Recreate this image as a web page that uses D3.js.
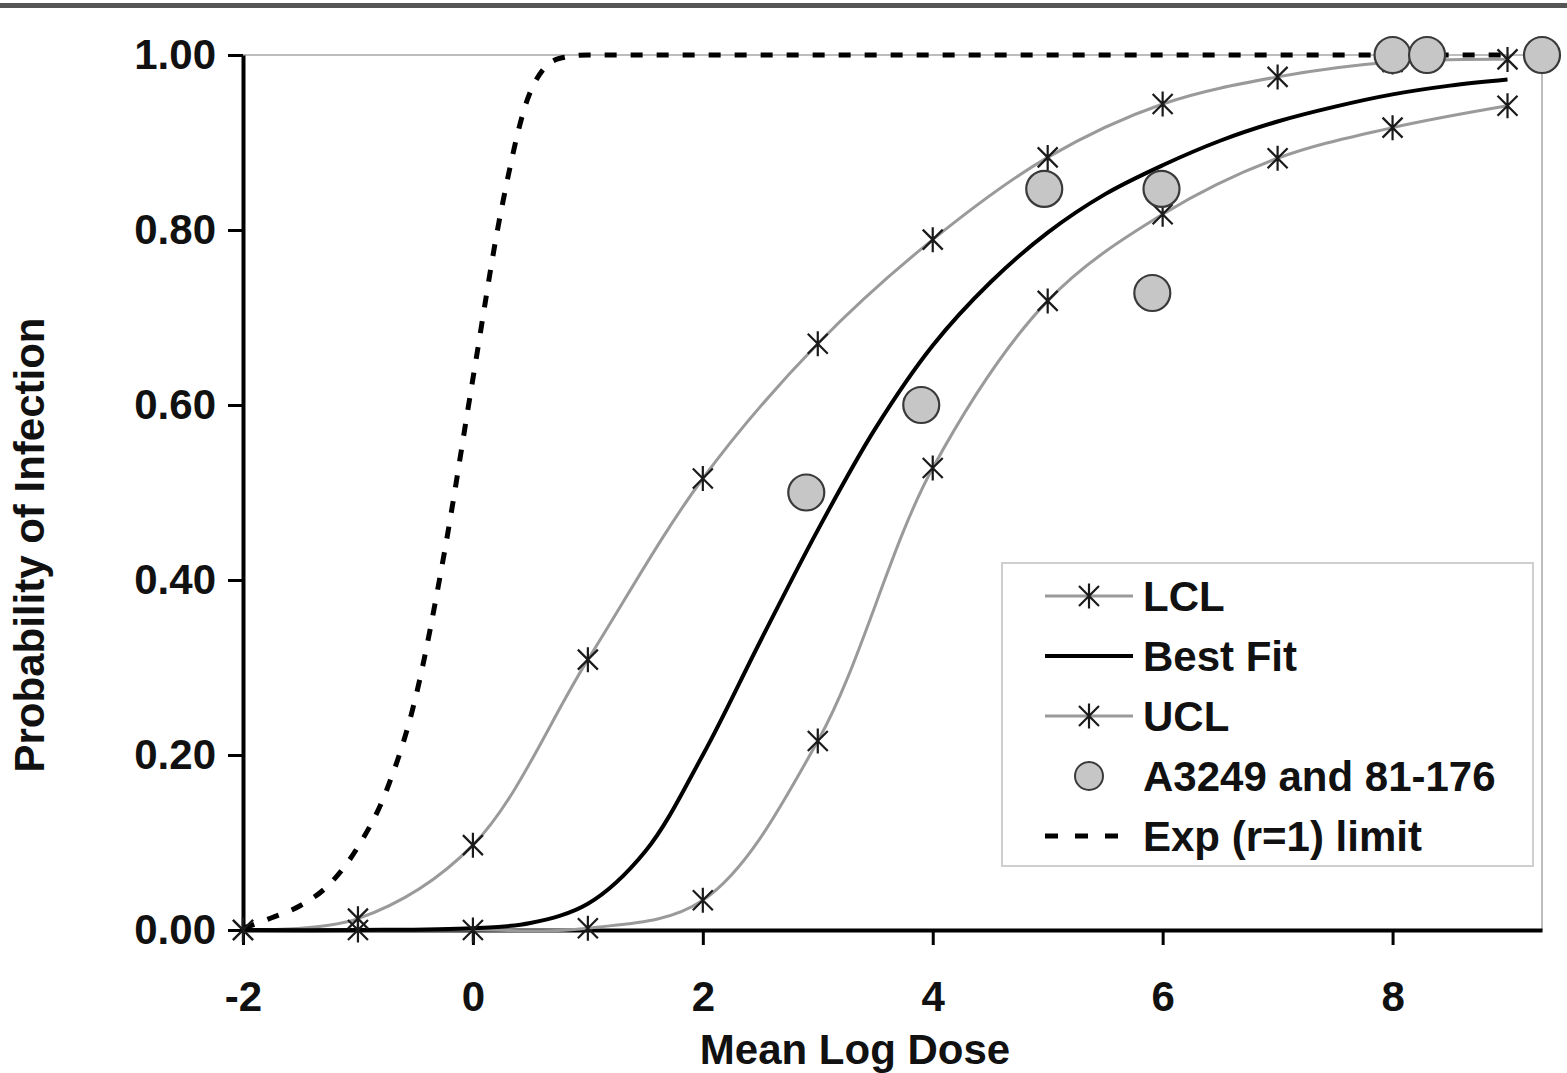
<!DOCTYPE html>
<html>
<head>
<meta charset="utf-8">
<script src="https://cdn.jsdelivr.net/npm/d3@7"></script>
<style>
  html, body { margin: 0; padding: 0; background: #fff; }
  svg { display: block; }
  text { font-family: "Liberation Sans", Arial, sans-serif; font-weight: bold; fill: #111; }
</style>
</head>
<body>
<svg id="chart" width="1567" height="1073"></svg>
<script>
// ---- data ----
const doseTicks = [-2, 0, 2, 4, 6, 8];
const probTicks = [0, 0.2, 0.4, 0.6, 0.8, 1.0];

const clDose  = [-2, -1, 0, 1, 2, 3, 4, 5, 6, 7, 8, 9];
const lclProb = [0, 0.013, 0.097, 0.309, 0.516, 0.670, 0.789, 0.883, 0.944, 0.975, 0.992, 0.995];
const uclProb = [0, 0, 0, 0.002, 0.034, 0.216, 0.528, 0.719, 0.818, 0.882, 0.917, 0.942];

const fitDose = [-2, -1, 0, 0.5, 1, 1.5, 2, 2.5, 3, 3.5, 4, 4.5, 5, 5.5, 6, 6.5, 7, 7.5, 8, 8.5, 9];
const fitProb = [0, 0, 0.002, 0.008, 0.03, 0.09, 0.20, 0.33, 0.457, 0.573, 0.668, 0.74, 0.797, 0.841, 0.874, 0.902, 0.924, 0.941, 0.955, 0.965, 0.972];

const obsDose = [2.9, 3.9, 4.97, 5.91, 5.99, 8.0, 8.3, 9.3];
const obsProb = [0.50, 0.60, 0.847, 0.728, 0.847, 1.0, 1.0, 1.0];

const expDose = [-2, -1.75, -1.5, -1.25, -1, -0.75, -0.5, -0.25, 0, 0.25, 0.5, 0.75, 1, 2, 3, 4, 5, 6, 7, 8, 9];
const expProb = [0.002, 0.014, 0.028, 0.052, 0.095, 0.16, 0.265, 0.43, 0.63, 0.825, 0.958, 0.996, 1, 1, 1, 1, 1, 1, 1, 1, 1];

const legendLabels = ["LCL", "Best Fit", "UCL", "A3249 and 81-176", "Exp (r=1) limit"];
const xTitle = "Mean Log Dose";
const yTitle = "Probability of Infection";

// ---- layout ----
const svg = d3.select("#chart");
const x = d3.scaleLinear().domain([-2, 9.3]).range([243, 1542]);
const y = d3.scaleLinear().domain([0, 1]).range([930, 55]);

const zip = (xs, ys) => xs.map((d, i) => [d, ys[i]]);
const lineMono = d3.line().x(d => x(d[0])).y(d => y(d[1])).curve(d3.curveMonotoneX);
const lineSmooth = d3.line().x(d => x(d[0])).y(d => y(d[1])).curve(d3.curveCatmullRom.alpha(0.5));

// top frame rule
svg.append("rect").attr("x", 0).attr("y", 3).attr("width", 1567).attr("height", 5).attr("fill", "#555");

// plot border (top + right, light gray)
svg.append("line").attr("x1", x(-2)).attr("x2", x(9.3)).attr("y1", y(1)).attr("y2", y(1))
  .attr("stroke", "#bdbdbd").attr("stroke-width", 2);
svg.append("line").attr("x1", x(9.3)).attr("x2", x(9.3)).attr("y1", y(1)).attr("y2", y(0))
  .attr("stroke", "#bdbdbd").attr("stroke-width", 2);

// axes
const yAxis = d3.axisLeft(y).tickValues(probTicks).tickFormat(d3.format(".2f")).tickSize(15).tickSizeOuter(0).tickPadding(12);
const gy = svg.append("g").attr("transform", `translate(${x(-2)},0)`).call(yAxis);
gy.select(".domain").attr("stroke", "#000").attr("stroke-width", 4);
gy.selectAll(".tick line").attr("stroke", "#000").attr("stroke-width", 3);
gy.selectAll(".tick text").attr("font-size", 42).attr("font-family", null).attr("fill", "#111");

const xAxis = d3.axisBottom(x).tickValues(doseTicks).tickFormat(d3.format("d")).tickSize(15).tickSizeOuter(0).tickPadding(36);
const gx = svg.append("g").attr("transform", `translate(0,${y(0)})`).call(xAxis);
gx.select(".domain").attr("stroke", "#000").attr("stroke-width", 4);
gx.selectAll(".tick line").attr("stroke", "#000").attr("stroke-width", 3);
gx.selectAll(".tick text").attr("font-size", 42).attr("font-family", null).attr("fill", "#111")
  .text(d => d < 0 ? "-" + Math.abs(d) : d);

// axis titles
svg.append("text").attr("x", 855).attr("y", 1064).attr("text-anchor", "middle").attr("font-size", 42).text(xTitle);
svg.append("text").attr("transform", "translate(44,545) rotate(-90)").attr("text-anchor", "middle").attr("font-size", 42).text(yTitle);

// exp limit (dashed)
svg.append("path").datum(zip(expDose, expProb)).attr("d", lineMono)
  .attr("fill", "none").attr("stroke", "#000").attr("stroke-width", 5).attr("stroke-dasharray", "12,14");

// confidence limits
const grey = "#9a9a9a";
[lclProb, uclProb].forEach(p => {
  svg.append("path").datum(zip(clDose, p)).attr("d", lineSmooth)
    .attr("fill", "none").attr("stroke", grey).attr("stroke-width", 3);
});

// best fit
svg.append("path").datum(zip(fitDose, fitProb)).attr("d", lineSmooth)
  .attr("fill", "none").attr("stroke", "#000").attr("stroke-width", 4);

// star markers
function star(g, cx, cy, s) {
  const p = `M${cx - s},${cy - s}L${cx + s},${cy + s}M${cx - s},${cy + s}L${cx + s},${cy - s}M${cx},${cy - s * 1.25}L${cx},${cy + s * 1.25}`;
  g.append("path").attr("d", p).attr("stroke", "#1a1a1a").attr("stroke-width", 2.2).attr("fill", "none");
}
const stars = svg.append("g");
[lclProb, uclProb].forEach(p => {
  zip(clDose, p).forEach(d => star(stars, x(d[0]), y(d[1]), 10));
});

// observations
svg.append("g").selectAll("circle").data(zip(obsDose, obsProb)).join("circle")
  .attr("cx", d => x(d[0])).attr("cy", d => y(d[1])).attr("r", 18)
  .attr("fill", "#c6c6c6").attr("stroke", "#3a3a3a").attr("stroke-width", 2.2);

// legend
const lg = svg.append("g");
lg.append("rect").attr("x", 1002).attr("y", 563).attr("width", 531).attr("height", 303)
  .attr("fill", "#fff").attr("stroke", "#cfcfcf").attr("stroke-width", 2);
const ly = i => 596 + i * 60;
const lx0 = 1045, lx1 = 1133;
// LCL
lg.append("line").attr("x1", lx0).attr("x2", lx1).attr("y1", ly(0)).attr("y2", ly(0)).attr("stroke", grey).attr("stroke-width", 3);
star(lg, 1089, ly(0), 10);
// Best fit
lg.append("line").attr("x1", lx0).attr("x2", lx1).attr("y1", ly(1)).attr("y2", ly(1)).attr("stroke", "#000").attr("stroke-width", 4);
// UCL
lg.append("line").attr("x1", lx0).attr("x2", lx1).attr("y1", ly(2)).attr("y2", ly(2)).attr("stroke", grey).attr("stroke-width", 3);
star(lg, 1089, ly(2), 10);
// observations
lg.append("circle").attr("cx", 1089).attr("cy", ly(3)).attr("r", 14).attr("fill", "#c6c6c6").attr("stroke", "#3a3a3a").attr("stroke-width", 2);
// exp
lg.append("line").attr("x1", lx0).attr("x2", 1118).attr("y1", ly(4)).attr("y2", ly(4)).attr("stroke", "#000").attr("stroke-width", 5).attr("stroke-dasharray", "13,17");

legendLabels.forEach((t, i) => {
  lg.append("text").attr("x", 1143).attr("y", ly(i)).attr("dy", "0.36em").attr("font-size", 42).text(t);
});
</script>
</body>
</html>
